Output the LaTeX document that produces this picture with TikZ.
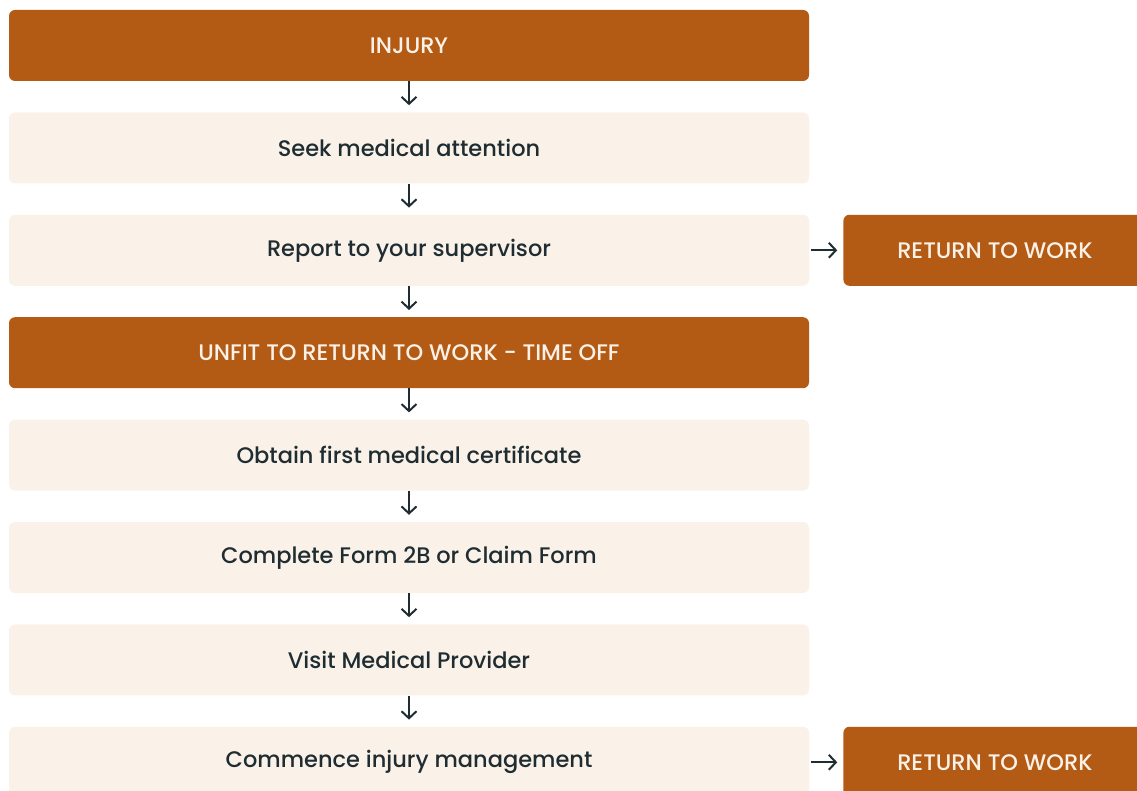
\documentclass[tikz,border=0pt]{standalone}
\usepackage{fontspec}
\setmainfont{Poppins}[UprightFont=*-Medium]
\usetikzlibrary{arrows.meta,positioning}

\definecolor{rust}{HTML}{B35B15}
\definecolor{cream}{HTML}{FAF2E8}
\definecolor{ink}{HTML}{1F2D33}
\definecolor{paper}{HTML}{FBF1E6}

\begin{document}
\begin{tikzpicture}[x=1pt,y=1pt]

\tikzset{
  boxbase/.style={rounded corners=6pt, minimum height=71pt, inner sep=0pt,
                  font=\fontsize{22.5}{26}\selectfont},
  stepbox/.style={boxbase, fill=cream, text=ink, minimum width=800pt},
  stagebox/.style={boxbase, fill=rust, text=paper, minimum width=800pt},
  outbox/.style={boxbase, fill=rust, text=paper, minimum width=303pt},
  flow/.style={-{Straight Barb[length=7pt,width=15pt]}, line width=2pt, draw=ink,
               shorten <=0pt, shorten >=7pt},
  sideflow/.style={flow, shorten <=2pt, shorten >=6pt},
  node distance=31pt
}

\useasboundingbox (0,0) rectangle (1137,-791);

\node[stagebox] (injury) at (409,-45.5) {INJURY};
\node[stepbox, below=of injury] (seek) {Seek medical attention};
\node[stepbox, below=of seek] (report) {Report to your supervisor};
\node[stagebox, below=of report] (unfit) {UNFIT TO RETURN TO WORK - TIME OFF};
\node[stepbox, below=of unfit] (certificate) {Obtain first medical certificate};
\node[stepbox, below=of certificate] (claim) {Complete Form 2B or Claim Form};
\node[stepbox, below=of claim] (provider) {Visit Medical Provider};
\node[stepbox, below=of provider] (manage) {Commence injury management};

\node[outbox, right=34pt of report] (rtw1) {RETURN TO WORK};
\node[outbox, right=34pt of manage] (rtw2) {RETURN TO WORK};

% down the main path
\foreach \a/\b in {injury/seek, seek/report, report/unfit, unfit/certificate,
                   certificate/claim, claim/provider, provider/manage}
  \draw[flow] (\a) -- (\b);

% side exits
\draw[sideflow] (report) -- (rtw1);
\draw[sideflow] (manage) -- (rtw2);

\end{tikzpicture}
\end{document}
